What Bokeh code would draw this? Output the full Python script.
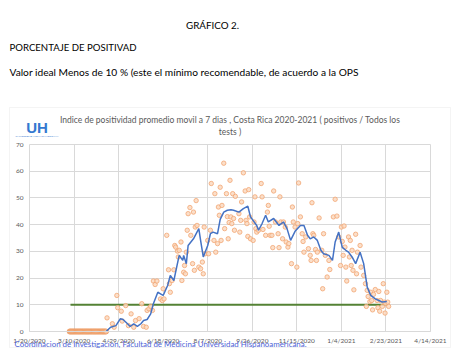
import pandas as pd
from bokeh.plotting import figure
from bokeh.models import (Label, BoxAnnotation, FixedTicker, DatetimeTickFormatter, Range1d,
                          ColumnDataSource, DatetimeAxis, LinearAxis, Grid)
from bokeh.embed import file_html
from bokeh.resources import INLINE

# ---------------- data ----------------
FECHA_BASE = "2020-01-20"          # day 0 of the day offsets below
etiquetas_x = ["1/20/2020", "3/10/2020", "4/29/2020", "6/18/2020", "8/7/2020",
               "9/26/2020", "11/15/2020", "1/4/2021", "2/23/2021", "4/14/2021"]
ticks_y = [0, 10, 20, 30, 40, 50, 60, 70]

# 7-day moving average (blue line): days since FECHA_BASE, value (%)
dias_promedio = [86, 91, 97, 102, 105, 110, 113, 117, 121, 125, 128, 132, 136, 139, 144,
                 147, 150, 155, 158, 162, 166, 168, 172, 173, 176, 178, 184, 190, 192, 195,
                 200, 203, 206, 211, 214, 218, 222, 226, 229, 235, 240, 245, 248, 255, 257,
                 261, 265, 268, 274, 280, 285, 289, 293, 298, 304, 308, 312, 315, 319, 323,
                 327, 330, 336, 340, 343, 347, 351, 355, 358, 362, 366, 371, 375, 379, 383,
                 388, 392, 396, 401]
promedio_movil = [0, 1.6, 2.2, 4.8, 4.5, 2.9, 1.9, 2.9, 1.9, 2.9, 4.1, 4.5, 6.6, 10.4, 14.7,
                  14.1, 13.5, 17.2, 21, 19.1, 25.4, 28.5, 26.6, 28.5, 25.4, 32.2, 34.7, 38.5, 34.1, 27.9,
                  32.2, 36.6, 37.2, 36.6, 42, 44.7, 45.4, 45.6, 45.4, 44.7, 46, 46.9, 42.9, 39.7, 37.9,
                  40.4, 43.5, 41, 42.3, 39.7, 41, 38.5, 34.1, 37.5, 39.7, 39.7, 36, 34.7, 35.4, 34.1,
                  30.4, 29.1, 28.5, 26.6, 33.5, 37.2, 31.5, 30.4, 29.7, 27.9, 25.4, 29.7, 25.4, 16.6, 13.5,
                  12.2, 11.6, 11, 11.2]

# daily positivity (orange points)
dias_puntos = [87, 93, 95, 98, 99, 103, 104, 108, 111, 114, 117, 119, 123, 126, 128, 131, 132, 134,
               136, 138, 139, 141, 143, 147, 149, 150, 151, 154, 156, 157, 158, 160, 162, 163, 164,
               166, 167, 168, 170, 171, 173, 174, 175, 176, 177, 178, 180, 181, 183, 184, 185, 186,
               187, 188, 190, 192, 194, 195, 196, 197, 200, 201, 203, 204, 207, 208, 209, 211, 212,
               213, 214, 215, 216, 218, 219, 221, 222, 223, 224, 225, 226, 227, 228, 229, 230, 231,
               235, 236, 237, 238, 240, 242, 243, 244, 245, 246, 247, 248, 251, 252, 253, 254, 255,
               257, 260, 261, 262, 265, 267, 268, 269, 270, 272, 273, 274, 276, 279, 280, 281, 282,
               284, 285, 287, 288, 290, 291, 294, 295, 296, 298, 300, 301, 302, 304, 306, 307, 308,
               310, 313, 315, 316, 317, 318, 319, 321, 322, 323, 325, 328, 329, 330, 332, 334, 336,
               337, 341, 343, 345, 347, 349, 350, 351, 352, 353, 354, 355, 356, 358, 359, 360, 361,
               362, 363, 364, 366, 367, 368, 371, 372, 375, 377, 378, 379, 380, 382, 383, 384, 385,
               386, 388, 390, 391, 392, 393, 394, 396, 397, 398, 399, 400, 401, 402, 403]
positividad_diaria = [5.1, 2.9, 1.6, 13.5, 8.9, 7.6, 3.9, 9.7, 2.2, 6.6, 1.6, 4.1, 4.8, 10.4, 1.9, 1.6, 7.9, 8.5,
                      9.4, 7.9, 18.9, 17.6, 18.9, 12.2, 11.6, 16, 12.2, 36, 23.1, 17.9, 14.7, 19.1, 23.1, 32.2, 31.6,
                      30.1, 27.9, 30.4, 33.5, 19.1, 22.2, 24.7, 21.6, 29.7, 37.9, 44.1, 46.4, 36, 25.4, 44.7, 22.9, 39.1,
                      49, 39.7, 24.1, 23.5, 26, 21.6, 39.1, 29.1, 34.1, 29.1, 37.9, 55.4, 34.1, 51.6, 29.7, 32.9, 46.6,
                      43.5, 54, 34.1, 47.2, 63, 38.5, 51.6, 43, 34.7, 40.8, 56.6, 42.9, 40.4, 51.6, 42.3, 37.9, 50.6,
                      44.1, 37.2, 41.6, 48.5, 59.4, 52.6, 41.6, 40.4, 35.6, 53.1, 42.9, 34.7, 34.1, 41, 50.4, 38.5, 37.2,
                      37.9, 55.4, 50.4, 38.2, 36, 44.7, 47.2, 39.4, 36, 36, 31.4, 52.6, 41, 36.6, 31.4, 50.4, 41,
                      34.7, 41, 39.1, 33.5, 31.6, 32.9, 25.4, 46.6, 41, 39.1, 24.1, 40.4, 55.6, 42.9, 36.6, 33.7, 29.7,
                      35.4, 31, 28.5, 26.6, 48.2, 36.6, 36, 30.7, 26.6, 29.7, 42.5, 30.4, 16, 36.6, 28.5, 20.4, 26.6,
                      23.2, 42.9, 49.5, 43.2, 35.4, 24.7, 39.1, 33.7, 28.5, 39.5, 31.6, 24.1, 18.9, 35.4, 27.9, 34.1, 24.7,
                      30.4, 22.9, 15.6, 36.4, 21.6, 29.7, 32.2, 24.1, 21, 17.9, 9.4, 15.4, 13.1, 11.2, 14.7, 11.6, 8.1,
                      13.9, 15.7, 11.6, 8.9, 15, 7.6, 11.6, 9.4, 17.9, 11, 6.9, 10.4, 14.7, 11, 9.4]

# run of zero readings at the start (orange points on the 0 line)
dias_cero = list(range(45, 87))
valores_cero = [0] * len(dias_cero)

# OPS reference line at 10 %
dias_meta = [46, 402]
valor_meta = [10, 10]

# ---------------- helpers ----------------
base = pd.Timestamp(FECHA_BASE)
def a_fecha(dias):
    return [base + pd.Timedelta(days=d) for d in dias]

fechas_ticks = pd.to_datetime(etiquetas_x, format="%m/%d/%Y")
ticks_ms = [t.value / 1e6 for t in fechas_ticks]

# layout: the frame is the whole canvas; the plot area sits inside it
W, H = 459, 356
PL, PR, PT, PB = 29, 430, 144, 331          # plot area in canvas pixels
t0, t1 = fechas_ticks[0], fechas_ticks[-1]
ms_per_px = (t1 - t0) / (PR - PL)
y_lo, y_hi = ticks_y[0], ticks_y[-1]
u_per_px = (y_hi - y_lo) / (PB - PT)

p = figure(width=W, height=H, output_backend="svg", toolbar_location=None,
           x_axis_type="datetime", x_axis_location=None, y_axis_location=None,
           x_range=Range1d(t0 - ms_per_px * PL, t1 + ms_per_px * (W - PR)),
           y_range=Range1d(y_lo - u_per_px * (H - PB), y_hi + u_per_px * PT),
           min_border=0, min_border_left=0, min_border_right=0,
           min_border_top=0, min_border_bottom=0, title=None)
p.outline_line_color = None
p.background_fill_color = "white"
p.border_fill_color = "white"
p.grid.visible = False

# axes drawn inside the frame at fixed locations
xax = DatetimeAxis(fixed_location=y_lo, bounds=(ticks_ms[0], ticks_ms[-1]))
yax = LinearAxis(fixed_location=ticks_ms[0], bounds=(y_lo, y_hi))
xax.ticker = FixedTicker(ticks=ticks_ms)
xax.formatter = DatetimeTickFormatter(days="%-m/%-d/%Y", months="%-m/%-d/%Y",
                                      years="%-m/%-d/%Y")
yax.ticker = FixedTicker(ticks=ticks_y)
for ax in (xax, yax):
    ax.major_tick_line_color = None
    ax.minor_tick_line_color = None
    ax.major_tick_out = 0
    ax.major_tick_in = 0
    ax.minor_tick_out = 0
    ax.major_label_text_font = "Lato"
    ax.major_label_text_font_size = "6.5px"
    ax.major_label_text_color = "#595959"
yax.axis_line_color = None
xax.axis_line_color = "#d9d9d9"
yax.major_label_standoff = 6
xax.major_label_standoff = 5
p.add_layout(xax, "below")
p.add_layout(yax, "left")

# grids limited to the plot area
gx = Grid(dimension=0, ticker=FixedTicker(ticks=ticks_ms), grid_line_color="#d9d9d9")
gy = Grid(dimension=1, ticker=FixedTicker(ticks=ticks_y), grid_line_color="#d9d9d9")
gx.bounds = (ticks_ms[0], ticks_ms[-1])
gy.bounds = (y_lo, y_hi)
if "cross_bounds" in Grid.properties():
    gx.cross_bounds = (y_lo, y_hi)
    gy.cross_bounds = (ticks_ms[0], ticks_ms[-1])
p.add_layout(gx)
p.add_layout(gy)

# data
src_pts = ColumnDataSource(dict(x=a_fecha(dias_puntos), y=positividad_diaria))
src_zero = ColumnDataSource(dict(x=a_fecha(dias_cero), y=valores_cero))
src_avg = ColumnDataSource(dict(x=a_fecha(dias_promedio), y=promedio_movil))
src_meta = ColumnDataSource(dict(x=a_fecha(dias_meta), y=valor_meta))

p.line("x", "y", source=src_meta, line_color="#548235", line_width=2)
p.scatter("x", "y", source=src_zero, size=5, fill_color="#f7c6a3", line_color="#ee9a62",
          line_alpha=0.8)
p.scatter("x", "y", source=src_pts, size=4.4, fill_color="#fad9c1", line_color="#f2a673",
          line_alpha=0.8, fill_alpha=0.85)
p.line("x", "y", source=src_avg, line_color="#4472c4", line_width=1.5)

# annotations in screen units (frame == canvas, origin bottom-left)
def sx(cx):
    return cx
def sy(cy):
    return H - cy

p.add_layout(BoxAnnotation(left=sx(9), right=sx(450), bottom=sy(347), top=sy(107),
                           left_units="screen", right_units="screen",
                           top_units="screen", bottom_units="screen",
                           fill_color=None, fill_alpha=0, line_color="#d9d9d9", line_width=1))

def lab(text, x, y, size, color="#000000", align="left", font="Lato", style="normal"):
    p.add_layout(Label(x=sx(x), y=sy(y), x_units="screen", y_units="screen", text=text,
                       text_font=font, text_font_size=size, text_color=color,
                       text_align=align, text_baseline="middle", text_font_style=style))

lab("GRÁFICO 2.", 212, 24, "9.8px", align="center")
lab("PORCENTAJE DE POSITIVAD", 9, 47, "9.6px")
lab("Valor ideal Menos de 10 % (este el mínimo recomendable, de acuerdo a la OPS", 9, 71, "10.2px")
lab("Indice de positividad promedio movil a 7 dias , Costa Rica 2020-2021 ( positivos / Todos los",
    229.5, 119, "8.5px", color="#595959", align="center")
lab("tests )", 229.5, 131, "8.5px", color="#595959", align="center")
lab("UH", 36.5, 127, "15px", color="#3478d0", align="center", font="Liberation Sans", style="bold")
lab("UNIVERSIDAD HISPANOAMERICANA", 36.5, 136, "2.5px", color="#3478d0", align="center")
lab("Coordinacion de Investigacion, Facultad de Medicina Universidad Hispanoamericana.",
    14, 343, "7.9px", color="#4d5fd6")

open("out.html", "w").write(file_html(p, INLINE))
